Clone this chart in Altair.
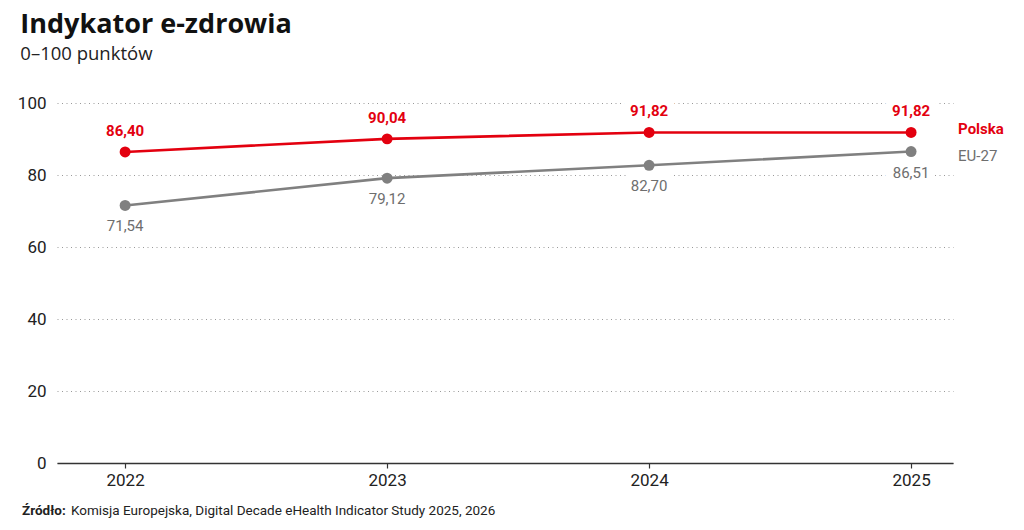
import altair as alt
import pandas as pd

years = [2022, 2023, 2024, 2025]
polska = [86.40, 90.04, 91.82, 91.82]
eu27 = [71.54, 79.12, 82.70, 86.51]
series_names = ["Polska", "EU-27"]
y_ticks = [0, 20, 40, 60, 80, 100]

RED = "#e3000f"
GRAY = "#808080"
FONT = "Roboto"


def fmt(v):
    return f"{v:.2f}".replace(".", ",")


rows = []
for name, vals in zip(series_names, [polska, eu27]):
    for yr, v in zip(years, vals):
        rows.append({"series": name, "year": yr, "value": v, "label": fmt(v)})
df = pd.DataFrame(rows)

x_enc = alt.X(
    "year:Q",
    scale=alt.Scale(domain=[2021.74, 2025.16], nice=False, zero=False),
    axis=alt.Axis(
        values=years, format="d", title=None, grid=False,
        domainColor="#333333", domainWidth=1.5, tickColor="#333333",
        tickSize=5, tickWidth=1.2, labelFontSize=17, labelColor="#222222",
        labelFont=FONT, labelPadding=4,
    ),
)
y_enc = alt.Y(
    "value:Q",
    scale=alt.Scale(domain=[0, 100], nice=False),
    axis=alt.Axis(
        values=y_ticks, title=None, domain=False, ticks=False,
        labelFontSize=17, labelColor="#222222", labelFont=FONT,
        labelPadding=11, gridColor="#9a9a9a", gridDash=[1, 3.5], gridWidth=1,
    ),
)
color_scale = alt.Scale(domain=series_names, range=[RED, GRAY])
color_enc = alt.Color("series:N", scale=color_scale, legend=None)

base = alt.Chart(df).encode(x=x_enc, y=y_enc)

pl = df[df.series == "Polska"]
eu = df[df.series == "EU-27"]

LBL = 15

halo_pl = alt.Chart(pl).mark_text(
    dy=-21, fontSize=LBL, fontWeight="bold", font=FONT,
    stroke="white", strokeWidth=16, fill="white", strokeJoin="round",
).encode(x=x_enc, y=y_enc, text="label:N")
halo_eu = alt.Chart(eu).mark_text(
    dy=21, fontSize=LBL, font=FONT,
    stroke="white", strokeWidth=16, fill="white", strokeJoin="round",
).encode(x=x_enc, y=y_enc, text="label:N")

lines = base.mark_line(strokeWidth=2.6).encode(color=color_enc, detail="series:N")
points = base.mark_circle(size=120, opacity=1).encode(color=color_enc)

text_pl = alt.Chart(pl).mark_text(
    dy=-21, fontSize=LBL, fontWeight="bold", font=FONT, color=RED
).encode(x=x_enc, y=y_enc, text="label:N")
text_eu = alt.Chart(eu).mark_text(
    dy=21, fontSize=LBL, font=FONT, color="#6e6e6e"
).encode(x=x_enc, y=y_enc, text="label:N")

last = df[df.year == years[-1]]
name_pl = alt.Chart(last[last.series == "Polska"]).mark_text(
    align="left", baseline="middle", dx=47, dy=-3, fontSize=LBL,
    fontWeight="bold", font=FONT, color=RED
).encode(x=x_enc, y=y_enc, text="series:N")
name_eu = alt.Chart(last[last.series == "EU-27"]).mark_text(
    align="left", baseline="middle", dx=47, dy=4, fontSize=LBL,
    font=FONT, color="#6e6e6e"
).encode(x=x_enc, y=y_enc, text="series:N")

src = pd.DataFrame({"a": ["Źródło:"], "b": ["Komisja Europejska, Digital Decade eHealth Indicator Study 2025, 2026"]})
src_bold = alt.Chart(src).mark_text(
    align="left", baseline="middle", fontSize=13.5, fontWeight="bold",
    font=FONT, color="#222222"
).encode(x=alt.value(-35), y=alt.value(408), text="a:N")
src_norm = alt.Chart(src).mark_text(
    align="left", baseline="middle", fontSize=13.5, font=FONT, color="#222222"
).encode(x=alt.value(14), y=alt.value(408), text="b:N")

chart = alt.layer(
    halo_pl, halo_eu, lines, points, text_pl, text_eu, name_pl, name_eu,
    src_bold, src_norm,
).properties(
    width=896,
    height=360,
    autosize=alt.AutoSizeParams(type="none"),
    padding={"left": 57, "top": 103, "right": 71, "bottom": 67},
    title=alt.TitleParams(
        text="Indykator e-zdrowia",
        subtitle="0–100 punktów",
        anchor="start",
        frame="bounds",
        dx=3,
        font="Open Sans",
        fontSize=27,
        fontWeight="bold",
        color="#111111",
        subtitleFont="Open Sans",
        subtitleFontSize=18.5,
        subtitleColor="#222222",
        subtitlePadding=6,
        offset=30,
    ),
).configure(background="white").configure_view(stroke=None)

chart.save("out.html", embed_options={"renderer": "svg", "actions": False})
